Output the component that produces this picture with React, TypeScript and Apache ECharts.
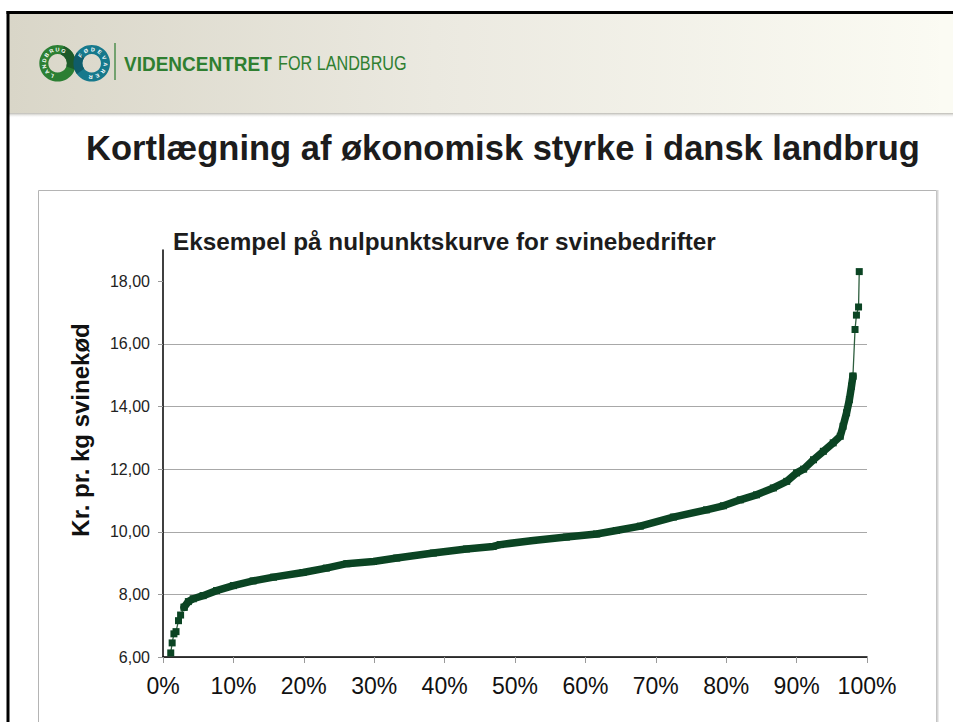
import React, { useEffect, useRef } from "react";
import * as echarts from "echarts";

// ---- Data ----
// Share of farms (percent, x) and zero-point price in kr. per kg pig meat (y)
const pctLowTail = [1.1, 1.3, 1.55, 1.85, 2.2, 2.5, 3.0];
const krLowTail = [6.13, 6.45, 6.74, 6.81, 7.16, 7.34, 7.59];

const pctMain = [
  3.0, 3.6, 4.3, 5.7, 7.6, 10.0, 12.8, 15.7, 19.9, 23.2, 26.1, 29.9, 33.2,
  38.4, 43.1, 46.9, 47.9, 52.6, 57.3, 61.6, 64.4, 67.8, 72.5, 77.2, 79.6,
  82.0, 84.3, 86.7, 88.6, 90.0, 91.0, 92.4, 93.8, 95.2, 96.2, 96.6, 97.1,
  97.5, 97.8, 98.0,
];
const krMain = [
  7.59, 7.77, 7.86, 7.96, 8.12, 8.28, 8.43, 8.55, 8.7, 8.84, 8.98, 9.05, 9.16,
  9.32, 9.45, 9.53, 9.59, 9.72, 9.83, 9.93, 10.04, 10.18, 10.47, 10.7, 10.83,
  11.02, 11.18, 11.4, 11.61, 11.88, 12.0, 12.3, 12.57, 12.84, 13.05, 13.37,
  13.8, 14.22, 14.65, 14.97,
];

const pctHighTail = [98.0, 98.3, 98.5, 98.8, 98.9];
const krHighTail = [14.97, 16.46, 16.92, 17.18, 18.31];

const yTicks = [6, 8, 10, 12, 14, 16, 18];
const xTickStep = 10;

const headerBrand = "VIDENCENTRET";
const headerBrandRest = "FOR LANDBRUG";
const slideTitle = "Kortlægning af økonomisk styrke i dansk landbrug";
const chartTitle = "Eksempel på nulpunktskurve for svinebedrifter";
const yAxisTitle = "Kr. pr. kg svinekød";
const ringTextLeft = "LANDBRUG";
const ringTextRight = "FØDEVARER";

const FONT = '"Liberation Sans", Arial, Helvetica, sans-serif';
const GREEN = "#0b4423";

function zip(xs: number[], ys: number[]) {
  return xs.map((x, i) => [x, ys[i]]);
}

function ringLetters(
  text: string,
  cx: number,
  cy: number,
  r: number,
  startDeg: number,
  endDeg: number
) {
  const n = text.length;
  const step = n > 1 ? (endDeg - startDeg) / (n - 1) : 0;
  return text.split("").map((ch, i) => {
    const th = ((startDeg + step * i) * Math.PI) / 180;
    return {
      type: "text",
      x: cx + r * Math.sin(th),
      y: cy - r * Math.cos(th),
      rotation: -th,
      silent: true,
      z: 20,
      style: {
        text: ch,
        fill: "#ffffff",
        font: `bold 5.5px ${FONT}`,
        textAlign: "center",
        textVerticalAlign: "middle",
        align: "center",
        verticalAlign: "middle",
      },
    };
  });
}

export default function App() {
  const ref = useRef<HTMLDivElement>(null);

  useEffect(() => {
    document.body.style.margin = "0";
    document.body.style.overflow = "hidden";
    if (!ref.current) return;
    const chart = echarts.init(ref.current, null, { renderer: "svg" });

    const lcx = 57.6,
      rcx = 91.7,
      lcy = 63.3,
      R = 18.3,
      r0 = 9.3;

    const graphic: any[] = [
      // header band
      {
        type: "rect",
        z: 0,
        silent: true,
        shape: { x: 9, y: 14, width: 944, height: 99 },
        style: {
          fill: new echarts.graphic.LinearGradient(0, 0, 1, 0, [
            { offset: 0, color: "#d9d6c8" },
            { offset: 0.45, color: "#ebe9e0" },
            { offset: 1, color: "#fbfbf3" },
          ]),
        },
      },
      {
        type: "rect",
        z: 0,
        silent: true,
        shape: { x: 9, y: 113, width: 944, height: 5 },
        style: {
          fill: new echarts.graphic.LinearGradient(0, 0, 0, 1, [
            { offset: 0, color: "rgba(150,148,138,0.65)" },
            { offset: 1, color: "rgba(255,255,255,0)" },
          ]),
        },
      },
      // outer black frame (top and left edges only visible)
      {
        type: "rect",
        z: 4,
        silent: true,
        shape: { x: 6.5, y: 11, width: 946.5, height: 3 },
        style: { fill: "#000" },
      },
      {
        type: "rect",
        z: 4,
        silent: true,
        shape: { x: 6.5, y: 11, width: 3, height: 711 },
        style: { fill: "#000" },
      },
      // right margin of the slide (no frame edge visible there)
      {
        type: "rect",
        z: 100,
        silent: true,
        shape: { x: 939, y: 14, width: 14, height: 99 },
        style: { fill: "#fbfbf3" },
      },
      {
        type: "rect",
        z: 100,
        silent: true,
        shape: { x: 939, y: 118, width: 14, height: 604 },
        style: { fill: "#ffffff" },
      },
      // logo rings
      {
        type: "ring",
        z: 10,
        silent: true,
        shape: { cx: lcx, cy: lcy, r: R, r0 },
        style: { fill: "#2c7f33" },
      },
      {
        type: "ring",
        z: 11,
        silent: true,
        shape: { cx: rcx, cy: lcy, r: R, r0 },
        style: { fill: "#16798c" },
      },
      {
        type: "sector",
        z: 12,
        silent: true,
        shape: {
          cx: lcx,
          cy: lcy,
          r: R,
          r0,
          startAngle: -Math.PI / 2.6,
          endAngle: Math.PI / 9,
          clockwise: true,
        },
        style: { fill: "#1d5a2a" },
      },
      {
        type: "sector",
        z: 12,
        silent: true,
        shape: {
          cx: rcx,
          cy: lcy,
          r: R,
          r0,
          startAngle: Math.PI * 0.8,
          endAngle: Math.PI * 1.2,
          clockwise: true,
        },
        style: { fill: "#0f5c6a" },
      },
      ...ringLetters(ringTextLeft, lcx, lcy, 13.8, 205, 385),
      ...ringLetters(ringTextRight, rcx, lcy, 13.8, -55, 185),
      // separator
      {
        type: "line",
        z: 10,
        silent: true,
        shape: { x1: 115, y1: 43, x2: 115, y2: 80 },
        style: { stroke: "#4f8f4f", lineWidth: 1.5 },
      },
      {
        type: "text",
        z: 10,
        silent: true,
        x: 124,
        y: 63.5,
        scaleX: 0.95,
        style: {
          text: headerBrand,
          fill: "#2f7f31",
          font: `bold 20px ${FONT}`,
          textAlign: "left",
          textVerticalAlign: "middle",
          align: "left",
          verticalAlign: "middle",
        },
      },
      {
        type: "text",
        z: 10,
        silent: true,
        x: 278,
        y: 63.5,
        scaleX: 0.81,
        style: {
          text: headerBrandRest,
          fill: "#2f7f31",
          font: `20px ${FONT}`,
          textAlign: "left",
          textVerticalAlign: "middle",
          align: "left",
          verticalAlign: "middle",
        },
      },
      // slide title
      {
        type: "text",
        z: 10,
        silent: true,
        x: 503,
        y: 148,
        style: {
          text: slideTitle,
          fill: "#1c1c1c",
          font: `bold 34.5px ${FONT}`,
          textAlign: "center",
          textVerticalAlign: "middle",
          align: "center",
          verticalAlign: "middle",
        },
      },
      // chart box
      {
        type: "rect",
        z: 5,
        silent: true,
        shape: { x: 38.5, y: 190.5, width: 898, height: 600 },
        style: { fill: "none", stroke: "#b4b4b4", lineWidth: 1 },
      },
      {
        type: "line",
        z: 5,
        silent: true,
        shape: { x1: 937.5, y1: 190, x2: 937.5, y2: 722 },
        style: { stroke: "#d6d6d6", lineWidth: 2 },
      },
      // chart title
      {
        type: "text",
        z: 10,
        silent: true,
        x: 173,
        y: 241,
        style: {
          text: chartTitle,
          fill: "#1c1c1c",
          font: `bold 24.3px ${FONT}`,
          textAlign: "left",
          textVerticalAlign: "middle",
          align: "left",
          verticalAlign: "middle",
        },
      },
      // y axis title
      {
        type: "text",
        z: 10,
        silent: true,
        x: 80,
        y: 430,
        rotation: Math.PI / 2,
        style: {
          text: yAxisTitle,
          fill: "#111",
          font: `bold 24px ${FONT}`,
          textAlign: "center",
          textVerticalAlign: "middle",
          align: "center",
          verticalAlign: "middle",
        },
      },
    ];

    const markerStyle = { color: GREEN };

    chart.setOption({
      animation: false,
      backgroundColor: "#ffffff",
      graphic,
      grid: { left: 163, right: 86, top: 250, bottom: 65, containLabel: false },
      xAxis: {
        type: "value",
        min: 0,
        max: 100,
        interval: xTickStep,
        axisLine: { show: true, lineStyle: { color: "#000", width: 1.5 } },
        axisTick: { show: true, length: 6, lineStyle: { color: "#9a9a9a" } },
        axisLabel: {
          formatter: "{value}%",
          fontSize: 23,
          color: "#111",
          margin: 17,
          fontFamily: FONT,
        },
        splitLine: { show: false },
      },
      yAxis: {
        type: "value",
        min: 6,
        max: 19,
        interval: 2,
        axisLine: { show: true, lineStyle: { color: "#000", width: 1.5 } },
        axisTick: {
          show: true,
          length: 5,
          customValues: yTicks,
          lineStyle: { color: "#9a9a9a" },
        },
        axisLabel: {
          customValues: yTicks,
          formatter: (v: number) => v.toFixed(2).replace(".", ","),
          fontSize: 16,
          color: "#222",
          margin: 13,
          fontFamily: FONT,
        },
        splitLine: {
          show: true,
          showMaxLine: false,
          lineStyle: { color: "#a8a8a8", width: 1 },
        },
      },
      series: [
        {
          type: "line",
          name: "low",
          data: zip(pctLowTail, krLowTail),
          symbol: "rect",
          symbolSize: 7,
          itemStyle: markerStyle,
          lineStyle: { color: "#2e5e3e", width: 1.3 },
          z: 3,
        },
        {
          type: "line",
          name: "main",
          data: zip(pctMain, krMain),
          symbol: "rect",
          symbolSize: 7,
          itemStyle: markerStyle,
          lineStyle: { color: GREEN, width: 7.5, cap: "round", join: "round" },
          z: 2,
        },
        {
          type: "line",
          name: "high",
          data: zip(pctHighTail, krHighTail),
          symbol: "rect",
          symbolSize: 7,
          itemStyle: markerStyle,
          lineStyle: { color: "#2e5e3e", width: 1.3 },
          z: 3,
        },
      ],
    });

    return () => chart.dispose();
  }, []);

  return (
    <div
      ref={ref}
      style={{
        position: "fixed",
        left: 0,
        top: 0,
        width: 953,
        height: 722,
        background: "#fff",
      }}
    />
  );
}
